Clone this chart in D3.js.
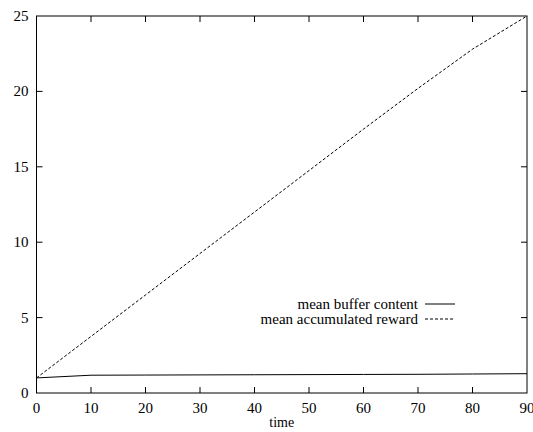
<!DOCTYPE html>
<html>
<head>
<meta charset="utf-8">
<script src="https://cdn.jsdelivr.net/npm/d3@7"></script>
<style>
  body { margin: 0; background: #fff; }
  svg text { font-family: "Liberation Serif", "Times New Roman", Times, Tinos, "DejaVu Serif", "Noto Serif", serif; }
</style>
</head>
<body>
<div id="chart"></div>
<script>
const times = [0, 10, 20, 30, 40, 50, 60, 70, 80, 90];
const bufferContent = [1.0, 1.18, 1.19, 1.2, 1.21, 1.22, 1.23, 1.24, 1.26, 1.28];
const accumulatedReward = [1.0, 3.75, 6.5, 9.25, 12.0, 14.75, 17.5, 20.2, 22.8, 25.0];
const xTicks = [0, 10, 20, 30, 40, 50, 60, 70, 80, 90];
const yTicks = [0, 5, 10, 15, 20, 25];
const seriesNames = ['mean buffer content', 'mean accumulated reward'];

const width = 533, height = 432;
const margin = {top: 16, right: 6, bottom: 39, left: 36.5};

const svg = d3.select('#chart').append('svg')
    .attr('width', width)
    .attr('height', height);

const x = d3.scaleLinear().domain([0, 90]).range([margin.left, width - margin.right]);
const y = d3.scaleLinear().domain([0, 25]).range([height - margin.bottom, margin.top]);

const tickLen = 6;

// frame
svg.append('rect')
    .attr('x', x(0)).attr('y', y(25))
    .attr('width', x(90) - x(0)).attr('height', y(0) - y(25))
    .attr('fill', 'none').attr('stroke', '#000').attr('stroke-width', 1);

// x ticks (bottom and mirrored top)
const xt = svg.append('g');
xTicks.forEach(t => {
    if (t === 0 || t === 90) return;
    xt.append('line').attr('x1', x(t)).attr('x2', x(t))
        .attr('y1', y(0)).attr('y2', y(0) - tickLen).attr('stroke', '#000');
    xt.append('line').attr('x1', x(t)).attr('x2', x(t))
        .attr('y1', y(25)).attr('y2', y(25) + tickLen).attr('stroke', '#000');
});
xTicks.forEach(t => {
    xt.append('text').attr('x', x(t)).attr('y', y(0) + 20)
        .attr('text-anchor', 'middle').attr('font-size', 15).text(t);
});

// y ticks (left and mirrored right)
const yt = svg.append('g');
yTicks.forEach(t => {
    if (t !== 0 && t !== 25) {
        yt.append('line').attr('x1', x(0)).attr('x2', x(0) + tickLen)
            .attr('y1', y(t)).attr('y2', y(t)).attr('stroke', '#000');
        yt.append('line').attr('x1', x(90)).attr('x2', x(90) - tickLen)
            .attr('y1', y(t)).attr('y2', y(t)).attr('stroke', '#000');
    }
    yt.append('text').attr('x', x(0) - 8).attr('y', y(t) + 5)
        .attr('text-anchor', 'end').attr('font-size', 15).text(t);
});

// axis title
svg.append('text').attr('x', x(45)).attr('y', y(0) + 34)
    .attr('text-anchor', 'middle').attr('font-size', 14).text('time');

const line = d3.line().x(d => x(d[0])).y(d => y(d[1]));

svg.append('path')
    .datum(times.map((t, i) => [t, bufferContent[i]]))
    .attr('d', line).attr('fill', 'none').attr('stroke', '#000').attr('stroke-width', 1);

svg.append('path')
    .datum(times.map((t, i) => [t, accumulatedReward[i]]))
    .attr('d', line).attr('fill', 'none').attr('stroke', '#000').attr('stroke-width', 1)
    .attr('stroke-dasharray', '3,2');

// legend
const legend = svg.append('g');
seriesNames.forEach((name, i) => {
    const ly = 304 + i * 15;
    legend.append('text').attr('x', 418).attr('y', ly + 5)
        .attr('text-anchor', 'end').attr('font-size', 15).text(name);
    legend.append('line').attr('x1', 425).attr('x2', 455)
        .attr('y1', ly).attr('y2', ly).attr('stroke', '#000')
        .attr('stroke-dasharray', i === 1 ? '3,2' : null);
});
</script>
</body>
</html>
